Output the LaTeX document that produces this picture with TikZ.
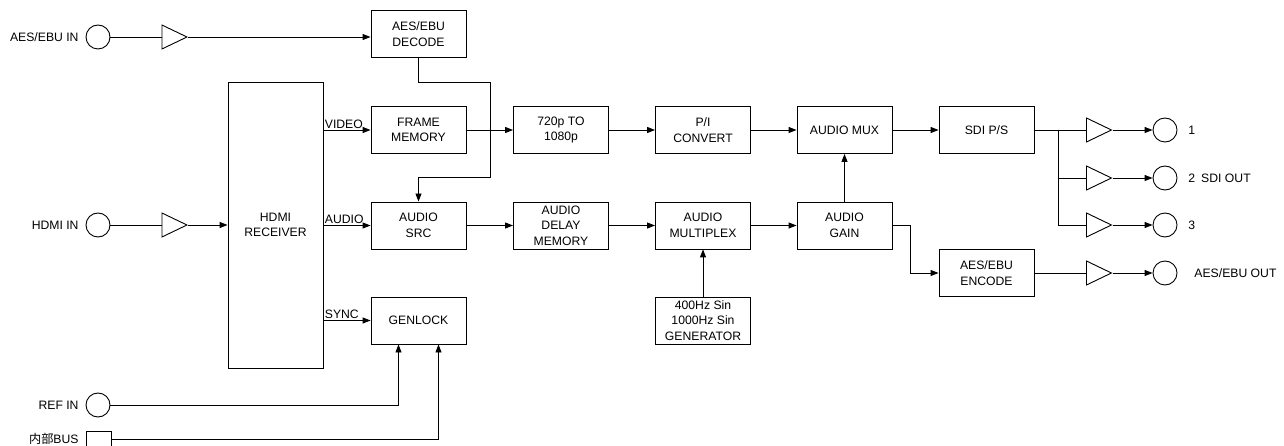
\documentclass[tikz,border=0pt]{standalone}
\usepackage{fontspec}
\setmainfont{Liberation Sans}
\newfontfamily\cjk{Noto Sans CJK JP}
\usetikzlibrary{arrows.meta,shapes.geometric}

\begin{document}
\begin{tikzpicture}[x=1pt, y=-1pt, line width=0.9pt,
    every node/.style={font=\fontsize{12.2}{15.5}\selectfont},
    block/.style={draw, minimum width=95pt, minimum height=47pt, align=center, inner sep=1pt},
    port/.style={draw, circle, minimum size=24pt, inner sep=0pt},
    jack/.style={draw, minimum size=25pt, inner sep=0pt},
    amp/.style={draw, isosceles triangle, isosceles triangle stretches,
        minimum width=24pt, minimum height=25pt, inner sep=0pt},
    sig/.style={-{Triangle[length=8pt,width=6pt]}},
    tag/.style={inner sep=1pt}]
    \useasboundingbox (0,0) rectangle (1284,446);

    % Inputs
    \node[port] (aesin) at (98,37) {};
    \node[port] (hdmiin) at (98,225) {};
    \node[port] (refin) at (98,405) {};
    \node[jack] (bus) at (98.5,443.5) {};
    \node[tag, anchor=east] (aesinlbl) at (80,37) {AES/EBU IN};
    \node[tag, anchor=east] (hdmiinlbl) at (80,225) {HDMI IN};
    \node[tag, anchor=east] (refinlbl) at (80,405) {REF IN};
    \node[tag, anchor=east] (buslbl) at (80,439) {{\cjk 内部}BUS};

    \node[amp] (ampa) at (169.5,37) {};
    \node[amp] (ampb) at (169.5,225) {};

    % Blocks
    \node[block] (decode) at (418.5,34) {AES/EBU\\DECODE};
    \node[block, minimum height=286pt] (hdmirx) at (275.5,225) {HDMI\\RECEIVER};
    \node[block] (frame) at (418.5,130) {FRAME\\MEMORY};
    \node[block] (src) at (418.5,225.5) {AUDIO\\SRC};
    \node[block] (genlock) at (418.5,320.5) {GENLOCK};
    \node[block] (upconv) at (561,130) {720p TO\\1080p};
    \node[block] (pic) at (703,130) {P/I\\CONVERT};
    \node[block] (mux) at (844.5,130) {AUDIO MUX};
    \node[block] (delay) at (561,225.5) {AUDIO\\DELAY\\MEMORY};
    \node[block] (mplex) at (703,225.5) {AUDIO\\MULTIPLEX};
    \node[block] (gain) at (844.5,225.5) {AUDIO\\GAIN};
    \node[block] (gen) at (703,320.5) {400Hz Sin\\1000Hz Sin\\GENERATOR};
    \node[block] (sdips) at (986.5,130) {SDI P/S};
    \node[block] (encode) at (986.5,273) {AES/EBU\\ENCODE};

    % Outputs
    \node[amp] (ampc) at (1094,130) {};
    \node[amp] (ampd) at (1094,178) {};
    \node[amp] (ampe) at (1094,225) {};
    \node[amp] (ampf) at (1094,273) {};
    \node[port] (out1) at (1165,130) {};
    \node[port] (out2) at (1165,178) {};
    \node[port] (out3) at (1165,225) {};
    \node[port] (aesout) at (1165,273) {};
    \node[tag, anchor=west] (out1lbl) at (1187,130) {1};
    \node[tag, anchor=west] (out2lbl) at (1187,178) {2\hspace{6pt}SDI OUT};
    \node[tag, anchor=west] (out3lbl) at (1187,225) {3};
    \node[tag, anchor=west] (aesoutlbl) at (1193,273) {AES/EBU OUT};

    % Connections
    \draw (aesin) -- (ampa);
    \draw[sig] (ampa) -- (ampa -| decode.west);
    \draw (hdmiin) -- (ampb);
    \draw[sig] (ampb) -- (hdmirx);
    \coordinate (jog) at (490,82);
    \draw[sig] (decode) -- (decode |- jog) -- (jog) -- ++(0,95) -| (src);

    \draw[sig] (hdmirx.east |- frame) -- node[tag, pos=0, anchor=south west] (videolbl) {VIDEO} (frame);
    \draw[sig] (hdmirx.east |- src) -- node[tag, pos=0, anchor=south west] (audiolbl) {AUDIO} (src);
    \draw[sig] (hdmirx.east |- genlock) -- node[tag, pos=0, anchor=south west] (synclbl) {SYNC} (genlock);

    \draw[sig] (frame) -- (upconv);
    \draw[sig] (upconv) -- (pic);
    \draw[sig] (pic) -- (mux);
    \draw[sig] (mux) -- (sdips);
    \draw[sig] (src) -- (delay);
    \draw[sig] (delay) -- (mplex);
    \draw[sig] (mplex) -- (gain);
    \draw[sig] (gen) -- (mplex);
    \draw[sig] (gain) -- (mux);
    \draw[sig] (gain.east) -- ++(18,0) |- (encode);

    \draw[sig] (refin) -| ([xshift=-20pt]genlock.south);
    \draw[sig] ([yshift=4.5pt]bus.east) -| ([xshift=20pt]genlock.south);

    \coordinate (split) at (1058,130);
    \draw (sdips) -- (ampc);
    \draw (split) |- (ampd);
    \draw (split) |- (ampe);
    \draw (encode) -- (ampf);
    \draw[sig] (ampc) -- (out1);
    \draw[sig] (ampd) -- (out2);
    \draw[sig] (ampe) -- (out3);
    \draw[sig] (ampf) -- (aesout);
\end{tikzpicture}
\end{document}
